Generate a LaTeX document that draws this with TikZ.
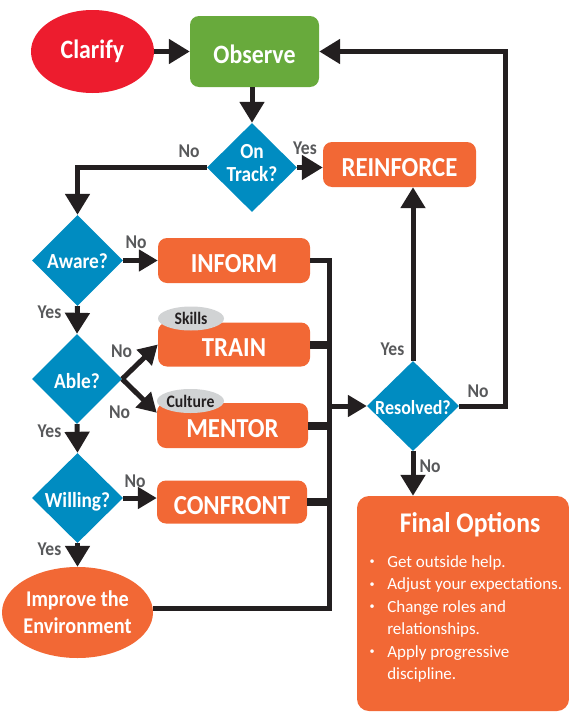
\documentclass[tikz,border=0pt]{standalone}
\usepackage{fontspec}
\setmainfont{Carlito}[FakeStretch=0.9]
\newfontfamily\listfont{Carlito}
\usetikzlibrary{arrows.meta,shapes.geometric,calc}
\definecolor{cred}{HTML}{ED1C2E}
\definecolor{cgreen}{HTML}{68AA3C}
\definecolor{corange}{HTML}{F26835}
\definecolor{cblue}{HTML}{008CC1}
\definecolor{cgray}{HTML}{D1D3D4}
\definecolor{cdark}{HTML}{231F20}
\definecolor{clabel}{HTML}{58595B}
\begin{document}
\begin{tikzpicture}[x=1pt,y=-1pt,
  box/.style={rectangle, rounded corners=9pt, fill=corange, text=white,
    font=\bfseries\fontsize{27.5}{30}\selectfont, inner sep=0pt,
    text height=24pt, text depth=0pt},
  dia/.style={diamond, fill=cblue, inner sep=0pt},
  dtext/.style={text=white, font=\bfseries\fontsize{21.5}{23}\selectfont, align=center, inner sep=0pt},
  lbl/.style={text=clabel, font=\bfseries\fontsize{19.5}{20}\selectfont, anchor=base, inner sep=0pt},
  tag/.style={ellipse, fill=cgray, text=cdark, font=\bfseries\fontsize{17.5}{18}\selectfont,
    inner xsep=-6pt, inner ysep=0pt},
  conn/.style={draw=cdark, line width=5pt},
  arr/.style={conn, -{Triangle[length=21pt,width=24pt]}},
  sarr/.style={conn, -{Triangle[length=19pt,width=21pt]}},
  stub/.style={draw=cdark, line width=8pt},
]
\useasboundingbox (0,0) rectangle (569,712);

% ---------- nodes ----------
\node[ellipse, fill=cred, text=white, font=\bfseries\fontsize{26.5}{28}\selectfont,
  minimum width=123pt, minimum height=83pt, inner sep=0pt] (clarify) at (92.5,51.5) {Clarify};
\node[box, fill=cgreen, font=\bfseries\fontsize{26.5}{28}\selectfont,
  minimum width=129pt, minimum height=71pt] (observe) at (254.5,51.5) {Observe};

\node[dia, minimum width=90pt, minimum height=89pt] (ontrack) at (252,167.5) {};
\node[dtext] (ontrackt) at (252,163) {On\\Track?};
\node[box, minimum width=153pt, minimum height=45pt] (reinforce) at (399.5,164.5) {REINFORCE};

\node[dia, minimum width=91pt, minimum height=91pt] (aware) at (77.5,260.5) {};
\node[dtext, anchor=base] (awaret) at (77.5,268) {Aware?};
\node[box, minimum width=152pt, minimum height=45pt] (inform) at (234,260.5) {INFORM};

\node[dia, minimum width=90pt, minimum height=90pt] (able) at (77,379) {};
\node[dtext, anchor=base] (ablet) at (77,388) {Able?};
\node[box, minimum width=152pt, minimum height=44pt] (train) at (234,344.5) {TRAIN};
\node[tag, minimum width=66pt, minimum height=24pt] (skills) at (191,318.5) {Skills};
\node[box, minimum width=151pt, minimum height=45pt] (mentor) at (232.5,425.5) {MENTOR};
\node[tag, minimum width=67pt, minimum height=24pt] (culture) at (190.5,401) {Culture};

\node[dia, minimum width=91pt, minimum height=90pt] (willing) at (77.5,498) {};
\node[dtext, anchor=base] (willingt) at (77.5,507) {Willing?};
\node[box, minimum width=150pt, minimum height=43pt] (confront) at (232,502) {CONFRONT};

\node[ellipse, fill=corange, text=white, font=\bfseries\fontsize{22.5}{27}\selectfont, align=center,
  minimum width=151pt, minimum height=91pt, inner xsep=-14pt, inner ysep=0pt] (improve) at (77.5,612.5)
  {Improve the\\Environment};

\node[dia, minimum width=92pt, minimum height=90pt] (resolved) at (413,406) {};
\node[dtext, anchor=base, font=\bfseries\fontsize{20}{20}\selectfont] (resolvedt) at (413,414) {Resolved?};

\node[box, rounded corners=12pt, minimum width=212pt, minimum height=215pt] (final) at (463,603.5) {};
\node[text=white, font=\bfseries\fontsize{28.5}{30}\selectfont, inner sep=0pt] (ftitle) at (470,525) {Final Options};
\node[anchor=north west, text=white, font=\listfont\fontsize{17}{22.5}\selectfont, inner sep=0pt, align=left]
  (flist) at (369.5,551.25) {%
  \begin{tabular}{@{}l@{\hspace{12.5pt}}l@{}}
  \raisebox{2.5pt}{\scalebox{0.6}{\textbullet}} & Get outside help.\\
  \raisebox{2.5pt}{\scalebox{0.6}{\textbullet}} & Adjust your expectations.\\
  \raisebox{2.5pt}{\scalebox{0.6}{\textbullet}} & Change roles and\\
   & relationships.\\
  \raisebox{2.5pt}{\scalebox{0.6}{\textbullet}} & Apply progressive\\
   & discipline.
  \end{tabular}};

% ---------- connectors ----------
\coordinate (busb) at (329,608);
\coordinate (loopc) at (505.5,0);

\draw[arr] (clarify.east) -- (observe.west);
\draw[arr] (observe.south -| ontrack.north) -- (ontrack.north);
\draw[arr] (ontrack.east) -- (ontrack.east -| reinforce.west);
\draw[arr] (ontrack.west) -| (aware.north);
\draw[sarr] (aware.east) -- (aware.east -| inform.west);
\draw[arr] (aware.south) -- (able.north);
\draw[sarr] (able.east) -- (train.west);
\draw[sarr] (able.east) -- ($(mentor.north west)!0.22!(mentor.south west)$);
\draw[arr] (able.south) -- (willing.north);
\draw[sarr] (willing.east) -- (willing.east -| confront.west);
\draw[arr] (willing.south) -- (improve.north);

\draw[conn] (inform.east) -| (busb) -- (busb -| improve.east);
\draw[stub] (train.east) -- (train.east -| busb);
\draw[stub] (mentor.east) -- (mentor.east -| busb);
\draw[stub] (confront.east) -- (confront.east -| busb);
\draw[sarr] (resolved.west -| busb) -- (resolved.west);

\draw[arr] (resolved.north) -- (resolved.north |- reinforce.south);
\draw[arr] (resolved.east) -- (resolved.east -| loopc) -- (observe.east -| loopc) -- (observe.east);
\draw[arr] (resolved.south) -- (resolved.south |- final.north);

% ---------- labels ----------
\node[lbl] (l1) at (189,157) {No};
\node[lbl] (l2) at (305,154) {Yes};
\node[lbl] (l3) at (136,248) {No};
\node[lbl] (l4) at (49.5,318) {Yes};
\node[lbl] (l5) at (121.5,357) {No};
\node[lbl] (l6) at (119.5,418) {No};
\node[lbl] (l7) at (49.5,437) {Yes};
\node[lbl] (l8) at (135,487) {No};
\node[lbl] (l9) at (49.5,555) {Yes};
\node[lbl] (l10) at (392.5,355) {Yes};
\node[lbl] (l11) at (478,397) {No};
\node[lbl] (l12) at (430,472) {No};
\end{tikzpicture}
\end{document}
